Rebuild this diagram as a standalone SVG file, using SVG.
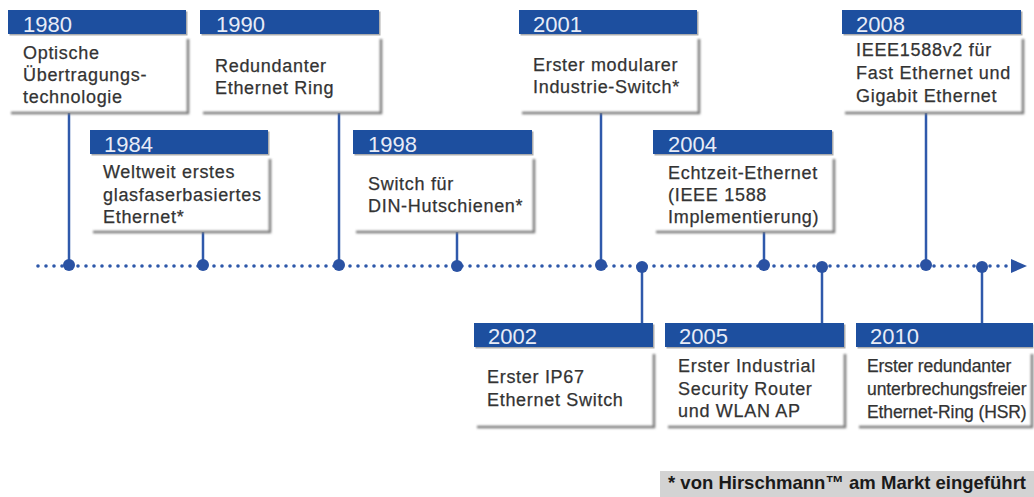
<svg xmlns="http://www.w3.org/2000/svg" width="1034" height="497" viewBox="0 0 1034 497">
<defs>
<filter id="soft" x="-5%" y="-5%" width="110%" height="110%"><feGaussianBlur stdDeviation="0.8"/></filter>
</defs>
<style>
.hdr{fill:#1d4f9f}
.hsh{fill:#4a4a4a;opacity:0.45}
.sh{fill:none;stroke:#7c7c7c;stroke-width:2.5;filter:url(#soft)}
.yr{font-family:"Liberation Sans",Arial,sans-serif;font-size:22px;fill:#e8ecf7}
.tx{font-family:"Liberation Sans",Arial,sans-serif;font-size:18px;letter-spacing:0.7px;fill:#333333;stroke:#333333;stroke-width:0.25px}
.tx2{font-family:"Liberation Sans",Arial,sans-serif;font-size:17.5px;letter-spacing:-0.1px;fill:#333333;stroke:#333333;stroke-width:0.25px}
.con{stroke:#2f59ab;stroke-width:2.5;fill:none}
.dot{fill:#2a52a3}
.tl{stroke:#2e58aa;stroke-width:3.6;stroke-linecap:round;stroke-dasharray:0 8;fill:none}
.fn{font-family:"Liberation Sans",Arial,sans-serif;font-size:19px;font-weight:bold;fill:#1a1a1a}
</style>
<rect width="1034" height="497" fill="#ffffff"/>

<g id="connectors">
<path class="tl" d="M38 266 H1008"/>
<polygon class="dot" points="1011,259 1027,266 1011,273"/>
<line class="con" x1="69" y1="113" x2="69" y2="266"/>
<line class="con" x1="339" y1="113" x2="339" y2="266"/>
<line class="con" x1="601" y1="113" x2="601" y2="266"/>
<line class="con" x1="926" y1="113" x2="926" y2="266"/>
<line class="con" x1="203" y1="232" x2="203" y2="266"/>
<line class="con" x1="457" y1="232" x2="457" y2="266"/>
<line class="con" x1="764" y1="232" x2="764" y2="266"/>
<line class="con" x1="642" y1="266" x2="642" y2="323"/>
<line class="con" x1="822" y1="266" x2="822" y2="323"/>
<line class="con" x1="982" y1="266" x2="982" y2="323"/>
<circle class="dot" cx="69" cy="265" r="6"/>
<circle class="dot" cx="203" cy="265" r="6"/>
<circle class="dot" cx="339" cy="265" r="6"/>
<circle class="dot" cx="457" cy="266" r="6"/>
<circle class="dot" cx="601" cy="265" r="6"/>
<circle class="dot" cx="642" cy="267" r="6"/>
<circle class="dot" cx="764" cy="265" r="6"/>
<circle class="dot" cx="822" cy="267" r="6"/>
<circle class="dot" cx="926" cy="265" r="6"/>
<circle class="dot" cx="982" cy="267" r="6"/>
</g>

<g id="n1980">
<path class="sh" d="M11 113 H188 V39"/>
<rect class="hsh" x="9.5" y="11.5" width="178" height="24"/>
<rect class="hdr" x="8" y="10" width="178" height="24"/>
<text class="yr" x="23" y="32">1980</text>
<text class="tx" x="23" y="59">Optische</text>
<text class="tx" x="23" y="81">Übertragungs-</text>
<text class="tx" x="23" y="103">technologie</text>
</g>

<g id="n1990">
<path class="sh" d="M203 113 H381 V39"/>
<rect class="hsh" x="201.5" y="11.5" width="179" height="24"/>
<rect class="hdr" x="200" y="10" width="179" height="24"/>
<text class="yr" x="216" y="32">1990</text>
<text class="tx" x="215" y="72">Redundanter</text>
<text class="tx" x="215" y="94">Ethernet Ring</text>
</g>

<g id="n2001">
<path class="sh" d="M522 113 H699 V39"/>
<rect class="hsh" x="520.5" y="11.5" width="178" height="24"/>
<rect class="hdr" x="519" y="10" width="178" height="24"/>
<text class="yr" x="533" y="32">2001</text>
<text class="tx" x="533" y="71">Erster modularer</text>
<text class="tx" x="533" y="93">Industrie-Switch*</text>
</g>

<g id="n2008">
<path class="sh" d="M845 113 H1023 V39"/>
<rect class="hsh" x="843.5" y="11.5" width="179" height="24"/>
<rect class="hdr" x="842" y="10" width="179" height="24"/>
<text class="yr" x="856" y="32">2008</text>
<text class="tx" x="856" y="56">IEEE1588v2 für</text>
<text class="tx" x="856" y="79">Fast Ethernet und</text>
<text class="tx" x="856" y="102">Gigabit Ethernet</text>
</g>

<g id="n1984">
<path class="sh" d="M93 232 H270 V159"/>
<rect class="hsh" x="91.5" y="131.5" width="178" height="24"/>
<rect class="hdr" x="90" y="130" width="178" height="24"/>
<text class="yr" x="104" y="152">1984</text>
<text class="tx" x="103" y="178">Weltweit erstes</text>
<text class="tx" x="103" y="201">glasfaserbasiertes</text>
<text class="tx" x="103" y="223">Ethernet*</text>
</g>

<g id="n1998">
<path class="sh" d="M356 232 H534 V159"/>
<rect class="hsh" x="354.5" y="131.5" width="179" height="24"/>
<rect class="hdr" x="353" y="130" width="179" height="24"/>
<text class="yr" x="368" y="152">1998</text>
<text class="tx" x="368" y="190">Switch für</text>
<text class="tx" x="368" y="212">DIN-Hutschienen*</text>
</g>

<g id="n2004">
<path class="sh" d="M656 232 H834 V159"/>
<rect class="hsh" x="654.5" y="131.5" width="179" height="24"/>
<rect class="hdr" x="653" y="130" width="179" height="24"/>
<text class="yr" x="668" y="152">2004</text>
<text class="tx" x="668" y="179">Echtzeit-Ethernet</text>
<text class="tx" x="668" y="201">(IEEE 1588</text>
<text class="tx" x="668" y="223">Implementierung)</text>
</g>

<g id="n2002">
<path class="sh" d="M477 427 H654 V354"/>
<rect class="hsh" x="475.5" y="324.5" width="179" height="24"/>
<rect class="hdr" x="474" y="323" width="179" height="24"/>
<text class="yr" x="488" y="344">2002</text>
<text class="tx" x="487" y="383">Erster IP67</text>
<text class="tx" x="487" y="406">Ethernet Switch</text>
</g>

<g id="n2005">
<path class="sh" d="M668 427 H845 V354"/>
<rect class="hsh" x="666.5" y="324.5" width="179" height="24"/>
<rect class="hdr" x="665" y="323" width="179" height="24"/>
<text class="yr" x="679" y="344">2005</text>
<text class="tx" x="678" y="372">Erster Industrial</text>
<text class="tx" x="678" y="395">Security Router</text>
<text class="tx" x="678" y="417">und WLAN AP</text>
</g>

<g id="n2010">
<path class="sh" d="M859 427 H1032 V354"/>
<rect class="hsh" x="857.5" y="324.5" width="176" height="24"/>
<rect class="hdr" x="856" y="323" width="177" height="24"/>
<text class="yr" x="870" y="344">2010</text>
<text class="tx2" x="867" y="372">Erster redundanter</text>
<text class="tx2" x="867" y="395">unterbrechungsfreier</text>
<text class="tx2" x="867" y="418">Ethernet-Ring (HSR)</text>
</g>

<g id="footnote">
<rect x="660" y="471" width="374" height="26" fill="#d3d3d3"/>
<text class="fn" x="668" y="489" textLength="358" lengthAdjust="spacingAndGlyphs">* von Hirschmann™ am Markt eingeführt</text>
</g>
</svg>
